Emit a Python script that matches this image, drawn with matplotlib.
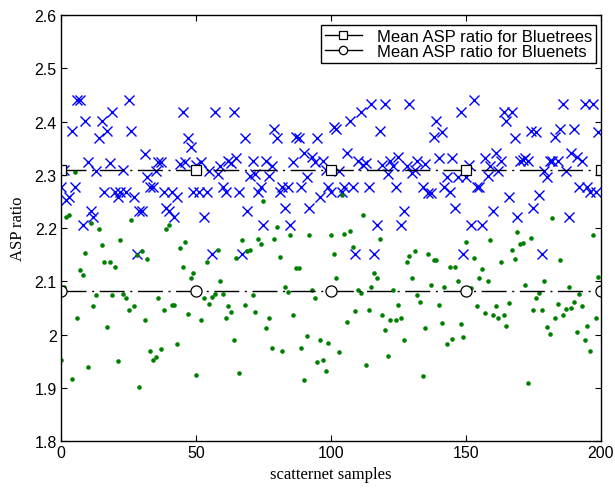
import numpy as np
import matplotlib
matplotlib.use("Agg")
import matplotlib.pyplot as plt

# ASP ratio per scatternet sample, Bluetrees
tree_x = [0, 1, 2, 3, 4, 5, 6, 7, 8, 9, 10, 11, 12, 13, 14, 15, 16, 17, 18, 19,
          20, 21, 22, 23, 24, 25, 26, 27, 28, 29, 30, 31, 32, 33, 34, 35, 36, 37, 38, 39,
          40, 41, 42, 43, 44, 45, 46, 47, 48, 49, 50, 51, 52, 53, 54, 55, 56, 57, 58, 59,
          60, 61, 62, 63, 64, 65, 66, 67, 68, 69, 70, 71, 72, 73, 74, 75, 76, 77, 78, 79,
          80, 81, 82, 83, 84, 85, 86, 87, 88, 89, 90, 91, 92, 93, 94, 95, 96, 97, 98, 99,
          100, 101, 102, 103, 104, 105, 106, 107, 108, 109, 110, 111, 112, 113, 114, 115,
          116, 117, 118, 119, 120, 121, 122, 123, 124, 125, 126, 127, 128, 129, 130, 131,
          132, 134, 135, 136, 137, 138, 139, 140, 141, 142, 143, 144, 145, 146, 147, 148,
          149, 150, 151, 152, 153, 154, 155, 156, 157, 158, 159, 160, 161, 162, 163, 164,
          165, 166, 167, 168, 169, 170, 171, 172, 173, 174, 175, 176, 177, 178, 179, 180,
          181, 182, 183, 184, 185, 186, 187, 188, 189, 190, 191, 192, 193, 194, 195, 196,
          197, 198, 199]
tree_y = [2.277, 2.310, 2.253, 2.259, 2.382, 2.277, 2.440, 2.440, 2.206, 2.401,
          2.324, 2.233, 2.221, 2.308, 2.370, 2.401, 2.268, 2.382, 2.322, 2.418,
          2.268, 2.259, 2.268, 2.309, 2.268, 2.440, 2.382, 2.259, 2.152, 2.233,
          2.233, 2.340, 2.296, 2.277, 2.277, 2.308, 2.324, 2.325, 2.268, 2.237,
          2.233, 2.268, 2.221, 2.259, 2.320, 2.418, 2.325, 2.370, 2.352, 2.268,
          2.318, 2.268, 2.325, 2.221, 2.268, 2.308, 2.152, 2.418, 2.302, 2.317,
          2.277, 2.268, 2.326, 2.322, 2.418, 2.331, 2.268, 2.152, 2.370, 2.233,
          2.298, 2.326, 2.302, 2.268, 2.277, 2.206, 2.326, 2.298, 2.317, 2.386,
          2.370, 2.268, 2.277, 2.237, 2.277, 2.206, 2.325, 2.372, 2.370, 2.277,
          2.341, 2.296, 2.237, 2.334, 2.325, 2.370, 2.259, 2.326, 2.309, 2.277,
          2.268, 2.389, 2.386, 2.308, 2.268, 2.277, 2.341, 2.401, 2.277, 2.152,
          2.326, 2.418, 2.318, 2.322, 2.277, 2.433, 2.152, 2.206, 2.382, 2.318,
          2.433, 2.302, 2.326, 2.317, 2.277, 2.334, 2.206, 2.233, 2.317, 2.433,
          2.303, 2.309, 2.326, 2.277, 2.320, 2.265, 2.265, 2.372, 2.401, 2.331,
          2.380, 2.277, 2.296, 2.268, 2.331, 2.237, 2.296, 2.418, 2.152, 2.296,
          2.318, 2.206, 2.440, 2.277, 2.277, 2.206, 2.331, 2.298, 2.317, 2.233,
          2.341, 2.308, 2.326, 2.418, 2.401, 2.259, 2.418, 2.370, 2.221, 2.326,
          2.327, 2.331, 2.326, 2.382, 2.237, 2.380, 2.263, 2.152, 2.308, 2.296,
          2.326, 2.326, 2.372, 2.326, 2.386, 2.433, 2.308, 2.221, 2.341, 2.386,
          2.334, 2.277, 2.326, 2.433, 2.277, 2.268, 2.433, 2.268, 2.380]

# ASP ratio per scatternet sample, Bluenets
net_x = [0, 1, 2, 3, 4, 5, 6, 7, 8, 9, 10, 11, 12, 13, 14, 15, 16, 17, 18, 19,
         20, 21, 22, 23, 24, 25, 26, 27, 28, 29, 30, 31, 32, 33, 34, 35, 36, 37, 38, 39,
         40, 41, 42, 43, 44, 45, 46, 47, 48, 49, 50, 51, 52, 53, 54, 55, 56, 57, 58, 59,
         60, 61, 62, 63, 64, 65, 66, 67, 68, 69, 70, 71, 72, 73, 74, 75, 76, 77, 78, 79,
         80, 81, 82, 83, 84, 85, 86, 87, 88, 89, 90, 91, 92, 93, 94, 95, 96, 97, 98, 99,
         100, 101, 102, 103, 104, 105, 106, 107, 108, 109, 110, 111, 112, 113, 114, 115,
         116, 117, 118, 119, 120, 121, 122, 123, 124, 125, 126, 127, 128, 129, 130, 131,
         132, 133, 134, 135, 136, 137, 138, 139, 140, 141, 142, 143, 144, 145, 146, 147,
         148, 149, 150, 152, 153, 154, 155, 156, 157, 158, 159, 160, 161, 162, 163, 164,
         165, 166, 167, 168, 169, 170, 171, 172, 173, 174, 175, 176, 177, 178, 179, 180,
         181, 182, 183, 184, 185, 186, 187, 188, 189, 190, 191, 192, 193, 194, 195, 196,
         197, 198, 199]
net_y = [1.953, 2.090, 2.221, 2.225, 1.917, 2.306, 2.032, 2.122, 2.111, 2.153,
         1.939, 2.210, 2.053, 2.074, 2.199, 2.168, 2.136, 2.015, 2.136, 2.075,
         2.127, 1.950, 2.177, 2.077, 2.069, 2.047, 2.215, 2.054, 2.149, 1.901,
         2.157, 2.028, 2.142, 1.970, 1.952, 1.958, 2.069, 1.973, 2.047, 2.199,
         2.206, 2.055, 2.055, 1.982, 2.163, 2.127, 2.174, 2.038, 2.106, 2.115,
         1.924, 2.085, 2.027, 2.068, 2.136, 2.058, 2.070, 2.077, 2.159, 2.100,
         2.076, 2.032, 2.054, 2.042, 1.989, 2.143, 1.928, 2.178, 2.055, 2.157,
         2.159, 2.075, 2.042, 2.179, 2.171, 2.250, 2.012, 2.032, 1.975, 2.179,
         2.202, 2.146, 1.970, 2.089, 2.080, 2.187, 2.037, 2.125, 2.125, 1.974,
         1.914, 1.997, 2.187, 2.084, 2.068, 1.949, 1.990, 1.953, 1.932, 1.984,
         2.187, 2.152, 2.106, 1.967, 2.262, 2.188, 2.024, 2.194, 2.164, 2.045,
         2.084, 2.078, 2.225, 1.942, 2.047, 2.090, 2.115, 2.106, 2.179, 2.037,
         2.008, 1.959, 2.028, 2.084, 2.028, 2.055, 2.032, 1.990, 2.136, 2.148,
         2.106, 2.157, 2.075, 2.062, 1.923, 2.012, 2.152, 2.094, 2.140, 2.141,
         2.055, 2.022, 2.090, 1.983, 2.127, 1.991, 2.127, 2.101, 2.020, 1.996,
         2.174, 2.088, 2.143, 2.053, 2.107, 2.124, 2.040, 2.100, 2.178, 2.036,
         2.053, 2.032, 2.136, 2.037, 2.016, 2.059, 2.159, 2.142, 2.193, 2.170,
         2.172, 2.094, 1.909, 2.181, 2.047, 2.069, 2.078, 2.046, 2.101, 2.015,
         2.002, 2.219, 2.032, 2.057, 2.141, 2.036, 2.048, 2.089, 2.050, 2.061,
         2.005, 2.077, 2.053, 1.989, 2.017, 1.969, 2.187, 2.031, 2.108]

# mean lines, marked every 50 samples
mean_x = [0, 50, 100, 150, 200]
mean_tree = 2.310
mean_net = 2.082

sans = ["Liberation Sans", "DejaVu Sans"]
serif = ["Liberation Serif", "DejaVu Serif"]

fig = plt.figure(figsize=(6.15, 4.89), dpi=100)
ax = fig.add_axes([0.0992, 0.0960, 0.8780, 0.8710])

ax.plot(tree_x, tree_y, linestyle="none", marker="x", color="#0000ff",
        ms=6.5, mew=1.0)
ax.plot(net_x, net_y, linestyle="none", marker="o", color="#008000",
        ms=3.3, mew=0)

dash = (0, (18, 4, 1.5, 4))
ax.plot(mean_x, [mean_tree] * len(mean_x), color="black", lw=1.0,
        linestyle=dash, marker="s", ms=7, mfc="white", mec="black", mew=0.9,
        label="Mean ASP ratio for Bluetrees")
ax.plot(mean_x, [mean_net] * len(mean_x), color="black", lw=1.0,
        linestyle=dash, marker="o", ms=8, mfc="white", mec="black", mew=0.9,
        label="Mean ASP ratio for Bluenets")

ax.set_xlim(0, 200)
ax.set_ylim(1.8, 2.6)
ax.set_xticks([0, 50, 100, 150, 200])
ax.set_yticks(np.round(np.arange(1.8, 2.61, 0.1), 1))
ax.set_yticklabels(["1.8", "1.9", "2", "2.1", "2.2", "2.3", "2.4", "2.5", "2.6"])
ax.tick_params(direction="in", top=True, right=True, length=4, width=0.8,
               labelsize=11.5, pad=3)
for lab in ax.get_xticklabels() + ax.get_yticklabels():
    lab.set_family(sans)
for s in ax.spines.values():
    s.set_linewidth(1.0)

ax.set_xlabel("scatternet samples", family=serif, fontsize=12, labelpad=4)
ax.set_ylabel("ASP ratio", family=serif, fontsize=12, labelpad=6)

# legend handles use a solid stroke, like the original MATLAB figure
leg = ax.legend(loc="upper right", bbox_to_anchor=(0.991, 0.977),
                prop={"family": sans, "size": 12},
                fancybox=False, framealpha=1, edgecolor="black",
                handlelength=2.2, handletextpad=0.9, borderpad=0.25,
                labelspacing=0.0, borderaxespad=0)
leg.get_frame().set_linewidth(1.0)
for h in leg.get_lines():
    h.set_linestyle("-")
    h.set_markersize(6)

fig.savefig("out.png", dpi=100)
